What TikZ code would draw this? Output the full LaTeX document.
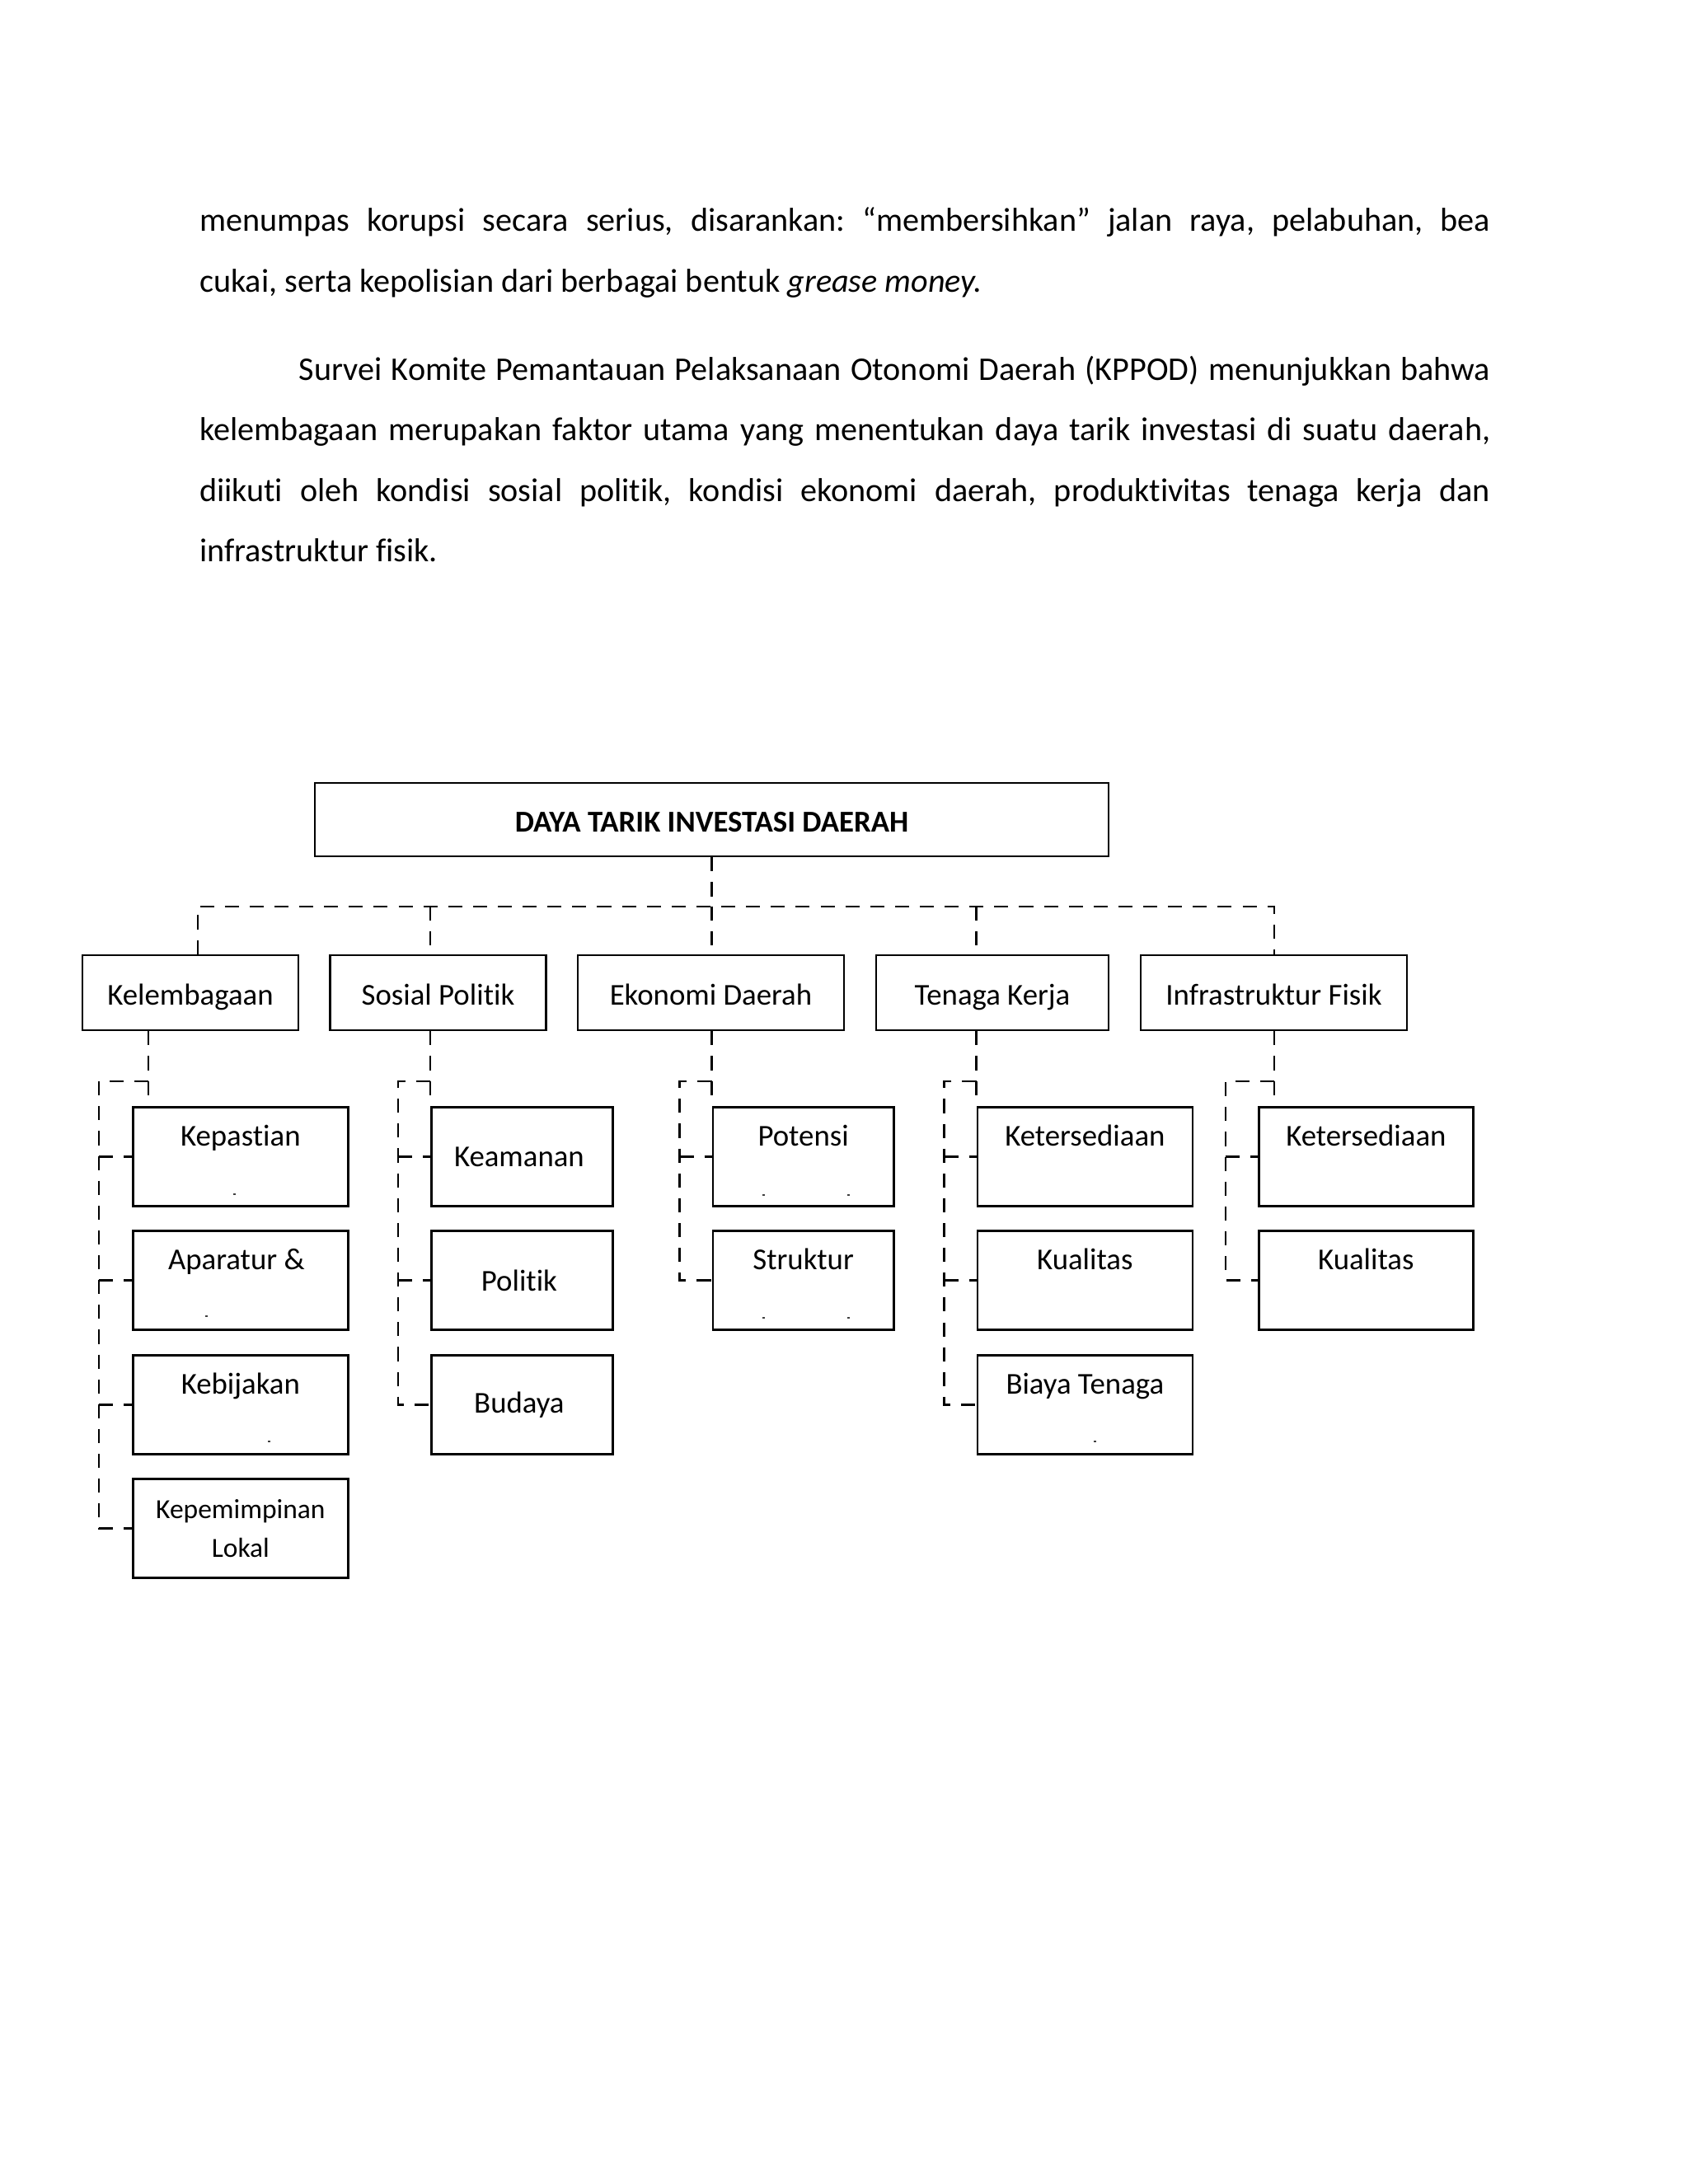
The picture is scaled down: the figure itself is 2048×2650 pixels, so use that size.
\documentclass[tikz,border=0pt]{standalone}
\usepackage{fontspec}
\setmainfont{Carlito}[Ligatures=NoCommon]
\frenchspacing
\begin{document}
\begin{tikzpicture}[x=0.29883pt,y=-0.29883pt,
  body/.style={anchor=base west, inner sep=0pt, font=\fontsize{12}{14.6}\selectfont},
  box/.style={draw, line width=0.8pt, inner sep=0pt, font=\fontsize{11}{13.4}\selectfont},
  lvl/.style={box, minimum height=27.2pt, text height=10.5pt, text depth=1.6pt},
  tbox/.style={box, anchor=north west, text height=14pt, text depth=21.9pt},
  cbox/.style={box, anchor=north west, minimum height=35.9pt},
  dl/.style={line width=0.8pt, dash pattern=on 5.1pt off 3.9pt},
  speck/.style={fill=black!75}]
\useasboundingbox (0,0) rectangle (2048,2650);

% ---- body text ----
\node[body] (l1) at (241.5,280.5) {\makebox[468pt][s]{menumpas korupsi secara serius, disarankan: “membersihkan” jalan raya, pelabuhan, bea}};
\node[body] (l2) at (241.5,354) {cukai, serta kepolisian dari berbagai bentuk \textit{grease money.}};
\node[body] (l3) at (362,461) {\makebox[432pt][s]{Survei Komite Pemantauan Pelaksanaan Otonomi Daerah (KPPOD) menunjukkan bahwa}};
\node[body] (l4) at (241.5,534.5) {\makebox[468pt][s]{kelembagaan merupakan faktor utama yang menentukan daya tarik investasi di suatu daerah,}};
\node[body] (l5) at (241.5,608) {\makebox[468pt][s]{diikuti oleh kondisi sosial politik, kondisi ekonomi daerah, produktivitas tenaga kerja dan}};
\node[body] (l6) at (241.5,681.5) {infrastruktur fisik.};

% ---- top box ----
\node[box, minimum width=287.8pt, minimum height=26.6pt, text height=9.1pt, text depth=0pt, font=\fontsize{11}{13.4}\selectfont\bfseries] (top) at (863.5,994.5) {DAYA TARIK INVESTASI DAERAH};

% ---- second level ----
\node[lvl, minimum width=78.3pt] (kel) at (231,1204.5) {Kelembagaan};
\node[lvl, minimum width=78.3pt] (sos) at (531.5,1204.5) {Sosial Politik};
\node[lvl, minimum width=96.5pt] (eko) at (862.5,1204.5) {Ekonomi Daerah};
\node[lvl, minimum width=84.3pt] (ten) at (1204,1204.5) {Tenaga Kerja};
\node[lvl, minimum width=96.5pt] (inf) at (1545.5,1204.5) {Infrastruktur Fisik};

% ---- children: Kelembagaan ----
\node[tbox, minimum width=78pt] (kA) at (160,1342) {Kepastian};
\node[tbox, minimum width=78pt] (kB) at (160,1492) {Aparatur \&\hspace*{3pt}};
\node[tbox, minimum width=78pt] (kC) at (160,1643) {Kebijakan};
\node[cbox, minimum width=78pt, align=center, font=\fontsize{10}{14}\selectfont] (kD) at (160,1793) {Kepemimpinan\\Lokal};
% ---- children: Sosial Politik ----
\node[cbox, minimum width=65.7pt] (sA) at (522,1342) {Keamanan\hspace*{2pt}};
\node[cbox, minimum width=65.7pt] (sB) at (522,1492) {Politik\hspace*{2pt}};
\node[cbox, minimum width=65.7pt] (sC) at (522,1643) {Budaya\hspace*{2pt}};
% ---- children: Ekonomi Daerah ----
\node[tbox, minimum width=65.6pt] (eA) at (863.5,1342) {Potensi};
\node[tbox, minimum width=65.6pt] (eB) at (863.5,1492) {Struktur};
% ---- children: Tenaga Kerja ----
\node[tbox, minimum width=78pt] (tA) at (1184.5,1342) {Ketersediaan};
\node[tbox, minimum width=78pt] (tB) at (1184.5,1492) {Kualitas};
\node[tbox, minimum width=78pt] (tC) at (1184.5,1643) {Biaya Tenaga};
% ---- children: Infrastruktur Fisik ----
\node[tbox, minimum width=77.7pt] (iA) at (1526,1342) {Ketersediaan};
\node[tbox, minimum width=77.7pt] (iB) at (1526,1492) {Kualitas};

% ---- specks ----
\foreach \x/\y in {284/1449, 250/1597, 326/1749, 926/1450, 1029/1450, 926/1599, 1029/1599, 1328/1749}
  \fill[speck] (\x-1.5,\y-1) rectangle (\x+1.5,\y+1);

% ---- top level connectors ----
\coordinate (c1) at (240,1100);
\coordinate (c2) at (522,1100);
\coordinate (c3) at (863.5,1100);
\coordinate (c4) at (1184.5,1100);
\coordinate (c5) at (1546,1100);
\draw[dl] (top.south) -- (top.south |- c1);
\draw[dl] (kel.north -| c1) -- (c1) -- (c5) -- (inf.north -| c5);
\draw[dl] (c2) -- (c2 |- sos.north);
\draw[dl] (c3) -- (c3 |- eko.north);
\draw[dl] (c4) -- (c4 |- ten.north);

% ---- group brackets ----
% Kelembagaan
\coordinate (kp) at (180,1330);
\coordinate (kq) at (180,1312);
\coordinate (ks) at (120,1312);
\draw[dl] (kel.south -| kp) -- (kp);
\draw[dl] (kq) -- (ks) -- (ks |- kD.west) -- (kD.west);
\foreach \c in {kA,kB,kC} \draw[dl] (ks |- \c.west) -- (\c.west);
% Sosial Politik
\coordinate (sp) at (522,1330);
\coordinate (sq) at (522,1312);
\coordinate (ss) at (483,1312);
\draw[dl] (sos.south -| sp) -- (sp);
\draw[dl] (sq) -- (ss) -- (ss |- sC.west) -- (sC.west);
\foreach \c in {sA,sB} \draw[dl] (ss |- \c.west) -- (\c.west);
% Ekonomi Daerah
\coordinate (ep) at (863.5,1330);
\coordinate (eq) at (863.5,1312);
\coordinate (es) at (824.6,1312);
\draw[dl] (eko.south -| ep) -- (ep);
\draw[dl] (eq) -- (es) -- (es |- eB.west) -- (eB.west);
\draw[dl] (es |- eA.west) -- (eA.west);
% Tenaga Kerja
\coordinate (tp) at (1184.5,1330);
\coordinate (tq) at (1184.5,1312);
\coordinate (ts) at (1145.7,1312);
\draw[dl] (ten.south -| tp) -- (tp);
\draw[dl] (tq) -- (ts) -- (ts |- tC.west) -- (tC.west);
\foreach \c in {tA,tB} \draw[dl] (ts |- \c.west) -- (\c.west);
% Infrastruktur Fisik
\coordinate (ip) at (1546,1330);
\coordinate (iq) at (1546,1312);
\coordinate (is) at (1487,1312);
\draw[dl] (inf.south -| ip) -- (ip);
\draw[dl] (iq) -- (is) -- (is |- iB.west) -- (iB.west);
\draw[dl] (is |- iA.west) -- (iA.west);
\end{tikzpicture}
\end{document}
